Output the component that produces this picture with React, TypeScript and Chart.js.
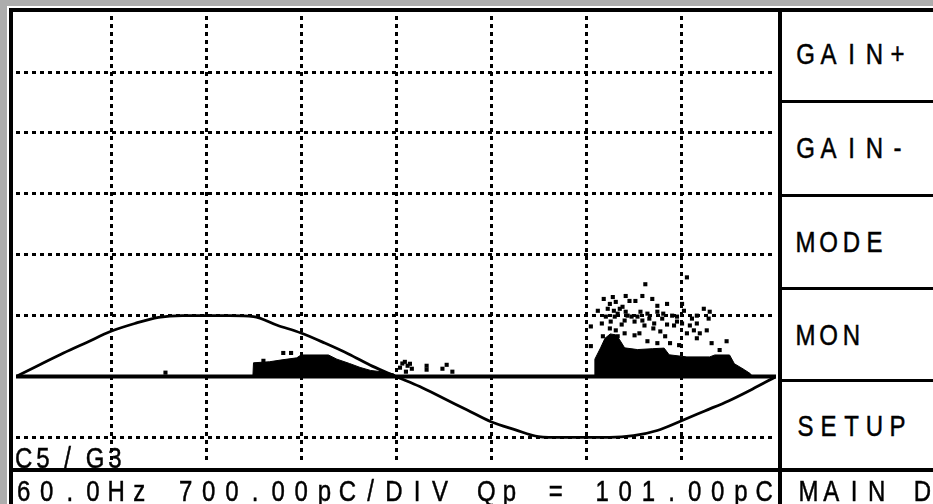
import React, { useEffect, useRef } from "react";
import { Chart, registerables } from "chart.js";

Chart.register(...registerables);

// Phase axis in degrees, charge axis in pC (700 pC per division)
const X_MIN = 0;
const X_MAX = 360;
const Y_MIN = -1005;
const Y_MAX = 4144;
const X_TICKS = [45, 90, 135, 180, 225, 270, 315];
const Y_TICKS = [-700, 700, 1400, 2100, 2800, 3500];

// Reference sine
const SINE_PHASE = [
  0, 11.25, 22.5, 33.75, 45, 56.25, 67.5, 78.75, 90, 101.25, 112.5, 123.75, 135, 146.25, 157.5, 168.75, 180,
  191.25, 202.5, 213.75, 225, 236.25, 247.5, 258.75, 270, 281.25, 292.5, 303.75, 315, 326.25, 337.5, 348.75, 360,
];
const SINE_VALUE = [
  0, 135, 270, 395, 520, 610, 680, 700, 700, 700, 690, 590, 500, 385, 260, 120, 0,
  -115, -250, -385, -520, -610, -690, -700, -700, -700, -680, -620, -510, -395, -280, -145, 0,
];

// Zero line
const ZERO_PHASE = [0, 360];
const ZERO_VALUE = [0, 0];

// Dense PD cluster on positive half-cycle (envelope)
const CLUSTER_A_PHASE = [112.2, 112.5, 120, 126, 133, 135, 148, 152, 158, 163, 168, 175, 179, 180];
const CLUSTER_A_VALUE = [0, 158, 170, 192, 215, 248, 248, 200, 150, 105, 70, 50, 30, 0];

// Dense PD cluster on negative half-cycle (envelope)
const CLUSTER_C_PHASE = [
  274.0, 274.2, 276.9, 279.0, 281.5, 284.0, 286.0, 288.3, 294.4, 301.4, 307.0, 309.4, 317.8, 328.6, 331.0, 338.0,
  340.3, 345.0, 347.8, 348.8,
];
const CLUSTER_C_VALUE = [0, 200, 330, 440, 490, 480, 420, 330, 310, 320, 327, 250, 226, 226, 248, 248, 147, 79, 34, 0];

// Individual pulses
const PULSE_PHASE = [
  126.6, 130.3, 117.2, 70.8, 181.9, 183.0, 184.2, 186.6, 187.5, 184.7, 185.5, 194.5, 194.5, 202.0, 204.0, 206.7,
  298.1, 317.8, 284.1, 290.6, 293.4, 301.4, 303.8, 308.4, 280.3, 285.0, 289.7, 295.8, 299.1, 303.8, 310.8,
  313.1, 322.5, 325.8, 328.6, 281.7, 288.3, 293.0, 297.7, 302.3, 311.7, 313.1, 319.2, 321.1, 323.9, 327.2,
  284.1, 288.3, 293.0, 299.1, 303.8, 309.8, 314.1, 272.3, 272.3, 333.3, 336.6, 278.4, 281.3, 287.3, 283.6,
  286.9, 294.4, 306.1, 308.4, 316.4, 320.2, 278.0, 281.3, 295.3, 307.5, 322.5, 329.5,
  279.4, 283.2, 286.0, 288.8, 291.6, 296.7, 300.0, 301.9, 305.2, 306.6, 315.5, 317.8, 282.7, 288.8, 296.7,
  277.5, 285.0, 275.6, 315.5, 322.5, 328.1,
];
const PULSE_VALUE = [
  271, 271, 181, 45, 102, 150, 169, 147, 90, 56, 124, 124, 79, 90, 135, 56,
  1061, 1140, 858, 869, 869, 892, 813, 835, 779, 723, 700, 745, 723, 745, 700,
  689, 700, 779, 745, 632, 644, 632, 587, 610, 587, 632, 587, 531, 497, 531,
  531, 497, 474, 406, 384, 384, 361, 576, 350, 305, 406, 892, 835, 802, 689,
  598, 689, 666, 598, 756, 666, 463, 553, 497, 463, 440, 384,
  689, 756, 779, 745, 689, 644, 666, 553, 519, 723, 610, 497, 914, 926, 926,
  610, 463, 756, 835, 610, 666,
];

const BUTTONS = ["GAIN+", "GAIN-", "MODE", "MON", "SETUP"];
const STATUS = "60.0Hz 700.00pC/DIV Qp = 101.00pC";
const CHANNEL = "C5 / G3";
const MENU = "MAIN D";

const FONT = '"Liberation Sans", Arial, sans-serif';

function toXY(xs: number[], ys: number[]) {
  return xs.map((x, i) => ({ x, y: ys[i] }));
}

function CellText(props: { text: string; left: number; top: number; pitch: number }) {
  const { text, left, top, pitch } = props;
  return (
    <div
      style={{
        position: "absolute",
        left,
        top,
        height: 24,
        lineHeight: "24px",
        fontSize: 24,
        fontFamily: FONT,
        whiteSpace: "pre",
        display: "flex",
        transform: "scaleY(1.2)",
        transformOrigin: "0 12px",
        color: "#000",
        WebkitTextStroke: "0.4px #000",
      }}
    >
      {Array.from(text).map((ch, i) => (
        <span key={i} style={{ display: "inline-block", width: pitch, textAlign: "center" }}>
          {ch}
        </span>
      ))}
    </div>
  );
}

function Block(props: { l: number; t: number; w: number; h: number; c: string }) {
  return (
    <div
      style={{
        position: "absolute",
        left: props.l,
        top: props.t,
        width: props.w,
        height: props.h,
        background: props.c,
      }}
    />
  );
}

export default function App() {
  const ref = useRef<HTMLCanvasElement>(null);

  useEffect(() => {
    if (!ref.current) return;
    const chart = new Chart(ref.current, {
      type: "scatter",
      data: {
        datasets: [
          {
            data: toXY(ZERO_PHASE, ZERO_VALUE),
            showLine: true,
            borderColor: "#000",
            borderWidth: 4,
            pointRadius: 0,
          },
          {
            data: toXY(CLUSTER_A_PHASE, CLUSTER_A_VALUE),
            showLine: true,
            fill: "origin",
            backgroundColor: "#000",
            borderColor: "#000",
            borderWidth: 1,
            pointRadius: 0,
          },
          {
            data: toXY(CLUSTER_C_PHASE, CLUSTER_C_VALUE),
            showLine: true,
            fill: "origin",
            backgroundColor: "#000",
            borderColor: "#000",
            borderWidth: 1,
            pointRadius: 0,
          },
          {
            data: toXY(PULSE_PHASE, PULSE_VALUE),
            showLine: false,
            pointStyle: "rect",
            pointRadius: 2.9,
            pointBackgroundColor: "#000",
            pointBorderWidth: 0,
          },
          {
            data: toXY(SINE_PHASE, SINE_VALUE),
            showLine: true,
            borderColor: "#000",
            borderWidth: 2.8,
            pointRadius: 0,
            cubicInterpolationMode: "monotone",
          },
        ] as any,
      },
      options: {
        animation: false,
        responsive: false,
        maintainAspectRatio: false,
        events: [],
        layout: { padding: 0 },
        plugins: { legend: { display: false }, tooltip: { enabled: false } },
        scales: {
          x: {
            type: "linear",
            min: X_MIN,
            max: X_MAX,
            afterBuildTicks: (axis: any) => {
              axis.ticks = X_TICKS.map((v) => ({ value: v }));
            },
            ticks: { display: false },
            grid: { color: "#000", lineWidth: 3, drawTicks: false },
            border: { display: false, dash: [4, 4] },
          },
          y: {
            type: "linear",
            min: Y_MIN,
            max: Y_MAX,
            afterBuildTicks: (axis: any) => {
              axis.ticks = Y_TICKS.map((v) => ({ value: v }));
            },
            ticks: { display: false },
            grid: { color: "#000", lineWidth: 3, drawTicks: false },
            border: { display: false, dash: [4, 4] },
          },
        },
      } as any,
    });
    return () => chart.destroy();
  }, []);

  const sepTops = [100, 194, 287, 379];
  const btnCenters = [54, 148, 242, 335, 426];

  return (
    <div
      style={{
        position: "absolute",
        left: 0,
        top: 0,
        width: 933,
        height: 504,
        background: "#fff",
        overflow: "hidden",
        fontFamily: FONT,
      }}
    >
      <canvas
        ref={ref}
        width={768}
        height={456}
        style={{ position: "absolute", left: 12, top: 12, width: 768, height: 456 }}
      />
      {/* outer gray frame */}
      <Block l={0} t={0} w={933} h={6} c="#adadad" />
      <Block l={0} t={0} w={7} h={504} c="#adadad" />
      {/* black borders */}
      <Block l={9} t={8} w={924} h={4} c="#000" />
      <Block l={9} t={8} w={4} h={496} c="#000" />
      <Block l={778} t={8} w={4} h={496} c="#000" />
      <Block l={9} t={468} w={924} h={4} c="#000" />
      {sepTops.map((t) => (
        <Block key={t} l={782} t={t} w={151} h={3} c="#000" />
      ))}
      {BUTTONS.map((b, i) => (
        <CellText key={b} text={b} left={794} top={btnCenters[i] - 11.7} pitch={23} />
      ))}
      <div
        style={{
          position: "absolute",
          left: 15,
          top: 445.8,
          height: 24,
          lineHeight: "24px",
          fontSize: 24,
          fontFamily: FONT,
          letterSpacing: 4,
          whiteSpace: "pre",
          transform: "scaleY(1.2)",
          transformOrigin: "0 12px",
          color: "#000",
          WebkitTextStroke: "0.4px #000",
        }}
      >
        {CHANNEL}
      </div>
      <CellText text={STATUS} left={12} top={479.3} pitch={23.15} />
      <CellText text={MENU} left={797} top={479.3} pitch={22.8} />
    </div>
  );
}
